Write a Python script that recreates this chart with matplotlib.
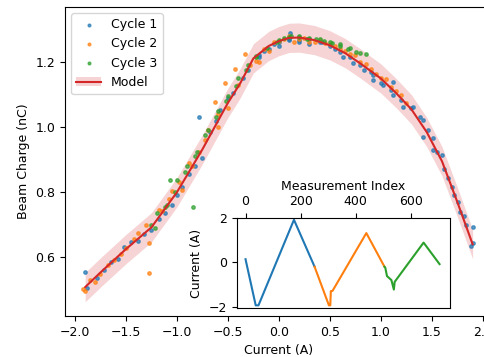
import numpy as np
import matplotlib.pyplot as plt
from matplotlib.patches import Patch

plt.rcParams['font.size'] = 9

# Model curve
model_x = [-1.90, -1.75, -1.50, -1.25, -1.00, -0.75, -0.50, -0.38, -0.25, -0.10,
           0.00, 0.10, 0.20, 0.35, 0.50, 0.65, 0.80, 1.00, 1.15, 1.30,
           1.45, 1.60, 1.75, 1.90]
model_y = [0.508, 0.553, 0.625, 0.692, 0.800, 0.932, 1.075, 1.135, 1.212, 1.250,
           1.265, 1.275, 1.276, 1.268, 1.252, 1.228, 1.196, 1.150, 1.105, 1.055,
           0.985, 0.895, 0.770, 0.640]
band_halfwidth = 0.045

# Cycle 1
c1_x = [0.10, -0.05, -0.20, -0.35, -0.50, -0.62, -0.75, -0.88, -1.00, -1.12,
        -1.25, -1.38, -1.52, -1.65, -1.78, -1.90,
        -1.88, -1.72, -1.58, -1.45, -1.32, -1.18, -1.05, -0.95, -0.82, -0.78,
        -0.68, -0.58, -0.45, -0.30, -0.15, 0.00, 0.108, 0.20, 0.30, 0.42,
        0.55, 0.63, 0.73, 0.83, 0.92, 1.02, 1.12, 1.22, 1.32, 1.415,
        1.51, 1.595, 1.66, 1.72, 1.78, 1.84, 1.905, 1.90,
        1.88, 1.82, 1.76, 1.70, 1.62, 1.55, 1.46, 1.38, 1.30, 1.20,
        1.10, 1.00, 0.90, 0.80, 0.70, 0.60, 0.50, 0.40, 0.30, 0.20,
        0.10, 0.00, -0.10, -0.20, 1.12, 1.415, 1.51, 0.92]
c1_y = [1.268, 1.255, 1.215, 1.150, 1.090, 1.020, 0.905, 0.855, 0.790, 0.735,
        0.685, 0.650, 0.630, 0.585, 0.535, 0.553,
        0.505, 0.560, 0.595, 0.648, 0.672, 0.718, 0.762, 0.815, 0.880, 1.031,
        0.985, 1.052, 1.105, 1.175, 1.235, 1.250, 1.289, 1.262, 1.255, 1.262,
        1.240, 1.217, 1.197, 1.176, 1.145, 1.130, 1.140, 1.063, 1.063, 1.022,
        0.966, 0.915, 0.845, 0.790, 0.740, 0.700, 0.694, 0.643,
        0.633, 0.728, 0.770, 0.815, 0.870, 0.925, 0.990, 1.030, 1.060, 1.085,
        1.115, 1.135, 1.170, 1.190, 1.215, 1.232, 1.250, 1.262, 1.270, 1.268,
        1.272, 1.262, 1.240, 1.222, 1.100, 0.971, 0.930, 1.160]

# Cycle 2
c2_x = [-0.22, -0.33, -0.43, -0.53, -0.63, -0.60, -0.72, -0.85, -0.95, -1.05,
        -1.15, -1.27, -1.27, -1.38, -1.50, -1.62, -1.75, -1.85, -1.92,
        -1.90, -1.80, -1.68, -1.55, -1.42, -1.30, -1.18, -1.08, -0.98, -0.88,
        -0.78, -0.70, -0.60, -0.50, -0.40, -0.28, -0.15, -0.05, 0.05, 0.15,
        0.25, 0.35, 0.45, 0.55, 0.65, 0.75, 0.85, 0.95, 1.05, 1.15, 1.25,
        1.20, 1.10, 1.00, 0.90, 0.80, 0.70, 0.60, 0.50, 0.40, 0.30,
        0.20, 0.10, 0.00, -0.10, -0.20]
c2_y = [1.205, 1.225, 1.180, 1.135, 1.079, 1.000, 0.960, 0.880, 0.808, 0.805,
        0.742, 0.645, 0.551, 0.675, 0.628, 0.590, 0.548, 0.530, 0.503,
        0.495, 0.525, 0.575, 0.610, 0.655, 0.700, 0.745, 0.780, 0.830, 0.890,
        0.925, 0.990, 1.040, 1.060, 1.130, 1.190, 1.240, 1.262, 1.270, 1.262,
        1.275, 1.262, 1.258, 1.250, 1.235, 1.222, 1.195, 1.165, 1.148, 1.110, 1.075,
        1.100, 1.125, 1.150, 1.180, 1.200, 1.225, 1.240, 1.255, 1.268, 1.262,
        1.270, 1.280, 1.265, 1.235, 1.200]

# Cycle 3
c3_x = [-0.22, -0.30, -0.40, -0.50, -0.60, -0.70, -0.80, -0.84, -0.90, -1.00,
        -1.10, -1.20, -1.25,
        -1.22, -1.12, -1.07, -1.02, -0.92, -0.82, -0.72, -0.62, -0.52, -0.42,
        -0.32, -0.22, -0.12, -0.02, 0.05, 0.12, 0.20, 0.28, 0.36, 0.44,
        0.52, 0.60, 0.68, 0.76, 0.85,
        0.80, 0.70, 0.60, 0.50, 0.40, 0.30, 0.20, 0.10, 0.00]
c3_y = [1.215, 1.190, 1.150, 1.095, 1.050, 0.990, 0.925, 0.754, 0.880, 0.838,
        0.760, 0.735, 0.700,
        0.690, 0.755, 0.838, 0.800, 0.862, 0.910, 0.975, 1.030, 1.080, 1.128,
        1.175, 1.220, 1.245, 1.262, 1.275, 1.280, 1.278, 1.272, 1.270, 1.265,
        1.258, 1.250, 1.240, 1.232, 1.225,
        1.228, 1.245, 1.255, 1.262, 1.270, 1.275, 1.280, 1.278, 1.268]

# Inset: current vs measurement index
i1_idx = [0, 37, 47, 176, 251]
i1_cur = [0.14, -1.94, -1.94, 1.92, -0.20]
i2_idx = [251, 303, 308, 310, 316, 439, 505]
i2_cur = [-0.20, -1.94, -1.94, -1.30, -1.29, 1.32, -0.20]
i3_idx = [505, 508, 514, 530, 539, 542, 647, 705]
i3_cur = [-0.20, -0.25, -0.62, -0.80, -1.23, -0.88, 0.89, -0.08]

fig = plt.figure(figsize=(4.85, 3.57), dpi=100)
ax = fig.add_axes([65/485, 1 - 316/357, 428/485, 309/357])

ax.fill_between(model_x, np.array(model_y) - band_halfwidth,
                np.array(model_y) + band_halfwidth,
                color='tab:red', alpha=0.2, linewidth=0, zorder=1)
ax.scatter(c1_x, c1_y, s=6, color='tab:blue', alpha=0.7, label='Cycle 1', zorder=2)
ax.scatter(c2_x, c2_y, s=6, color='tab:orange', alpha=0.7, label='Cycle 2', zorder=2)
ax.scatter(c3_x, c3_y, s=6, color='tab:green', alpha=0.7, label='Cycle 3', zorder=2)
line, = ax.plot(model_x, model_y, color='tab:red', linewidth=1.5, zorder=3)

ax.set_xlim(-2.098, 2.10)
ax.set_ylim(0.419, 1.370)
ax.set_xticks([-2.0, -1.5, -1.0, -0.5, 0.0, 0.5, 1.0, 1.5, 2.0])
ax.set_yticks([0.6, 0.8, 1.0, 1.2])
ax.set_xlabel('Current (A)')
ax.set_ylabel('Beam Charge (nC)')

h, l = ax.get_legend_handles_labels()
band_patch = Patch(color='tab:red', alpha=0.2, linewidth=0)
ax.legend(h + [(band_patch, line)], l + ['Model'], loc='upper left',
          scatterpoints=1, markerscale=0.8)

# Inset
ins = fig.add_axes([237/485, 1 - 308/357, 213/485, 90/357])
ins.plot(i1_idx, i1_cur, color='tab:blue')
ins.plot(i2_idx, i2_cur, color='tab:orange')
ins.plot(i3_idx, i3_cur, color='tab:green')
ins.set_xlim(-31, 743)
ins.set_ylim(-2.06, 2.0)
ins.set_yticks([-2, 0, 2])
ins.set_xticks([0, 200, 400, 600])
ins.xaxis.set_label_position('top')
ins.xaxis.tick_top()
ins.set_xlabel('Measurement Index')
ins.set_ylabel('Current (A)')

plt.savefig('out.png', dpi=100)
